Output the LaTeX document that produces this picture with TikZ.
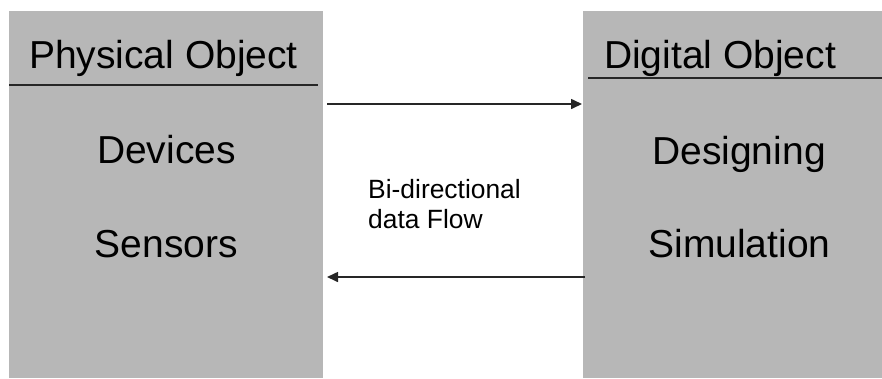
\documentclass[tikz,border=0pt]{standalone}
\usepackage{fontspec}
\setmainfont{Liberation Sans}
\usetikzlibrary{arrows.meta}
\definecolor{boxgray}{HTML}{B7B7B7}
\begin{document}
\begin{tikzpicture}[x=1pt,y=-1pt,
  objbox/.style={fill=boxgray,draw=none,inner sep=0pt,outer sep=0pt},
  bigtext/.style={font=\fontsize{39}{46}\selectfont,anchor=base,inner sep=0pt},
  smalltext/.style={font=\fontsize{26.4}{30}\selectfont,anchor=base west,inner sep=0pt},
  rule/.style={line width=1.8pt,black!85},
  flow/.style={line width=1.6pt,black!85,-{Triangle[length=11pt,width=10pt]}}]
\useasboundingbox (0,0) rectangle (882,378);
% boxes
\node[objbox,minimum width=314pt,minimum height=367pt,anchor=north west] (phys) at (9,11) {};
\node[objbox,minimum width=299pt,minimum height=367pt,anchor=north west] (dig) at (583,11) {};
% headers
\node[bigtext] (physT) at (163.5,68) {Physical Object};
\node[bigtext] (digT) at (720,68) {Digital Object};
\draw[rule] (phys.north west |- 0,85) -- (318,85);
\draw[rule] (588,78) -- (dig.north east |- 0,78);
% contents
\node[bigtext] (dev) at (166.5,163) {Devices};
\node[bigtext] (sen) at (166.5,257) {Sensors};
\node[bigtext] (des) at (739,164) {Designing};
\node[bigtext] (sim) at (739.5,257) {Simulation};
% flow label
\node[smalltext] (bi) at (368,198) {Bi-directional};
\node[smalltext] (df) at (368,228) {data Flow};
% arrows
\coordinate (a1s) at (327,104);
\coordinate (a1e) at (582,104);
\coordinate (a2s) at (585,277);
\coordinate (a2e) at (327,277);
\draw[flow] (a1s) -- (a1e);
\draw[flow] (a2s) -- (a2e);
\end{tikzpicture}
\end{document}
